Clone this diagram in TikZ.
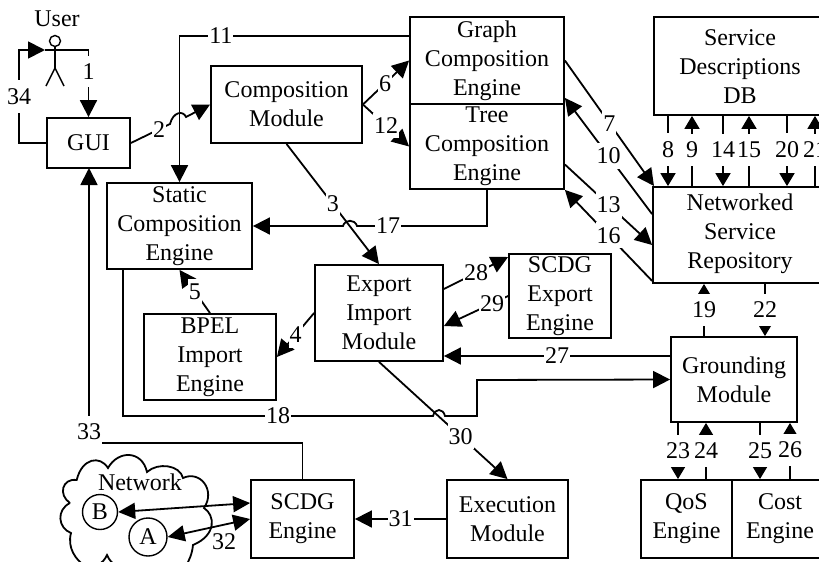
\documentclass[tikz,border=0pt]{standalone}
\usepackage{fontspec}
\setmainfont{Liberation Serif}
\usetikzlibrary{arrows.meta}
\tikzset{
  box/.style={draw,line width=1.8pt,align=center,inner sep=0pt,font=\fontsize{24}{29}\selectfont},
  lab/.style={fill=white,inner xsep=1pt,inner ysep=1pt,font=\fontsize{24}{29}\selectfont},
  labd/.style={lab,inner ysep=5pt},
  labv/.style={lab,inner xsep=0.5pt,inner ysep=8pt},
  plain/.style={inner sep=0pt,font=\fontsize{24}{29}\selectfont},
  conn/.style={line width=1.8pt,-{Triangle[length=17pt,width=17pt]}},
  connv/.style={line width=1.8pt,-{Triangle[length=13pt,width=15pt]}},
  conb/.style={line width=1.8pt,{Triangle[length=17pt,width=16pt]}-{Triangle[length=17pt,width=16pt]}},
  bare/.style={line width=1.8pt}
}
\begin{document}
\begin{tikzpicture}[x=1pt,y=-1pt]
   \useasboundingbox (0,0) rectangle (819,562);
   \clip (0,0) rectangle (819,562);
   % cloud
   \draw [bare] (70,503) .. controls (56,510) and (58,528) .. (71,533)
    .. controls (67,548) and (76,560) .. (85,566) .. controls (95,568) and (103,564) .. (107,555)
    .. controls (112,566) and (118,566) .. (125,570) -- (186,566)
    .. controls (189,560) and (192,555) .. (193,545) .. controls (217,535) and (215,515) .. (204,508)
    .. controls (216,490) and (200,470) .. (183,478) .. controls (180,465) and (158,462) .. (147,472)
    .. controls (142,450) and (118,450) .. (108,468) .. controls (100,455) and (82,458) .. (76.7,480)
    .. controls (62,478) and (58,495) .. (70,503);
   \node [plain] (net) at (140,482) {Network};
   \node [draw,circle,line width=1.4pt,inner sep=0pt,minimum size=35pt,font=\fontsize{24}{29}\selectfont] (nb) at (100,512) {B};
   \node [draw,circle,line width=1.4pt,inner sep=0pt,minimum size=38pt,font=\fontsize{24}{29}\selectfont] (na) at (148,537) {A};
   % boxes
   \node [box,minimum width=83pt,minimum height=50pt] (gui) at (88.5,143) {GUI};
   \node [box,minimum width=151pt,minimum height=77pt] (comp) at (286.5,104.5) {Composition\\Module};
   \node [box,minimum width=145pt,minimum height=86pt] (static) at (179.5,226) {Static\\Composition\\Engine};
   \node [box,minimum width=154pt,minimum height=87pt] (graph) at (487,60.5) {Graph\\Composition\\Engine};
   \node [box,minimum width=154pt,minimum height=85pt] (tree) at (487,146.5) {Tree\\Composition\\Engine};
   \node [box,minimum width=190pt,minimum height=98pt] (db) at (749,66) {};
   \node [plain,align=center] (dbtext) at (740,67) {Service\\Descriptions\\DB};
   \node [box,minimum width=190pt,minimum height=96pt] (repo) at (748,235) {};
   \node [plain,align=center] (repotext) at (740,234) {Networked\\Service\\Repository};
   \node [box,minimum width=126pt,minimum height=85pt] (ground) at (734,379.5) {Grounding\\Module};
   \node [box,minimum width=128pt,minimum height=96pt] (export) at (379,313) {Export\\Import\\Module};
   \node [box,minimum width=102pt,minimum height=84pt] (scdgx) at (560,296) {SCDG\\Export\\Engine};
   \node [box,minimum width=132pt,minimum height=86pt] (bpel) at (210,357) {BPEL\\Import\\Engine};
   \node [box,minimum width=121pt,minimum height=78pt] (exec) at (507.5,519) {Execution\\Module};
   \node [box,minimum width=103pt,minimum height=78pt] (scdg) at (302.5,519) {SCDG\\Engine};
   \node [box,minimum width=91pt,minimum height=78pt] (qos) at (686.5,519) {QoS\\Engine};
   \node [box,minimum width=100pt,minimum height=78pt] (cost) at (782,519) {};
   \node [plain,align=center] (costtext) at (780,519) {Cost\\Engine};
   % user
   \node [plain] (user) at (57,19) {User};
   \node [draw,circle,line width=1.4pt,inner sep=0pt,minimum size=11pt] (head) at (55,41) {};
   \coordinate (hip) at (55,68);
   \coordinate (arm) at (45,50);
   \draw [bare,line width=1.4pt] (head.south) -- (hip);
   \draw [bare,line width=1.4pt] (46,86) -- (hip) -- (64,86);
   \draw [conn] (gui.west) -- (19,143) -- node [labv,pos=.5] (l34) {34} (19,50) -- (arm);
   \draw [conn] (arm) -- (88.5,50) -- node [labv,pos=.32] (l1) {1} (gui.north);
   % connectors
   \draw [conn] (gui.east) -- node [lab,pos=.72] (l2) {2} (170,124) .. controls (173,112) and (183,110) .. (186,117) -- (comp.west);
   \draw [conn] (graph.west |- 0,36) -- node [lab,pos=.82] (l11) {11} (179.5,36) -- (static.north);
   \draw [conn] (comp.south) -- node [labd,pos=.5] (l3) {3} (export.north);
   \draw [conn] (comp.east) -- node [labd,pos=.48] (l6) {6} (graph.west);
   \draw [conn] (comp.east) -- node [labd,pos=.5] (l12) {12} (tree.west);
   \draw [conn] (tree.south) -- (487,226) -- node [lab,pos=.76] (l17) {17} (357,226) .. controls (355,219) and (345,219) .. (343,226) -- (static.east);
   \draw [conn] (graph.east) -- node [labd,pos=.5] (l7) {7} ([xshift=-94pt,yshift=49pt]repo.center);
   \draw [conn] ([yshift=-28pt]repo.north west) -- node [labd,pos=.5] (l10) {10} ([yshift=7pt]graph.south east);
   \draw [conn] ([yshift=-18pt]tree.east) -- node [labd,pos=.5] (l13) {13} ([yshift=-10pt]repo.west);
   \draw [conn] ([yshift=3pt]repo.south west) -- node [labd,pos=.5] (l16) {16} (tree.south east);
   % db and repository
   \draw [connv] (db.south -| 668,0) -- node [labv,pos=.48] (l8) {8} (repo.north -| 668,0);
   \draw [connv] (repo.north -| 692,0) -- node [labv,pos=.52] (l9) {9} (db.south -| 692,0);
   \draw [connv] (db.south -| 723,0) -- node [labv,pos=.48] (l14) {14} (repo.north -| 723,0);
   \draw [connv] (repo.north -| 749,0) -- node [labv,pos=.52] (l15) {15} (db.south -| 749,0);
   \draw [connv] (db.south -| 787,0) -- node [labv,pos=.48] (l20) {20} (repo.north -| 787,0);
   \draw [connv] (repo.north -| 815,0) -- node [labv,pos=.52] (l21) {21} (db.south -| 815,0);
   \draw [connv] (ground.north -| 704,0) -- node [labv,pos=.5] (l19) {19} (repo.south -| 704,0);
   \draw [connv] (repo.south -| 765,0) -- node [labv,pos=.5] (l22) {22} (ground.north -| 765,0);
   % grounding
   \draw [conn] ([yshift=23.5pt]ground.west) -- node [lab,pos=.5] (l27) {27} (export.east |- 0,356);
   \draw [conn] ([xshift=-56.5pt]static.south) -- (123,416) -- node [lab,pos=.5] (l18) {18} (433,416) .. controls (435,408) and (443,408) .. (445,416) -- (477,416) -- (477,380) -- (ground.west);
   \draw [connv] (ground.south -| 678,0) -- node [labv,pos=.5] (l23) {23} (qos.north -| 678,0);
   \draw [connv] (qos.north -| 706,0) -- node [labv,pos=.5] (l24) {24} (ground.south -| 706,0);
   \draw [connv] (ground.south -| 760,0) -- node [labv,pos=.5] (l25) {25} (cost.north -| 760,0);
   \draw [connv] (cost.north -| 790,0) -- node [labv,pos=.52] (l26) {26} (ground.south -| 790,0);
   % export import
   \draw [conn] (export.west) -- node [labd,pos=.5] (l4) {4} (bpel.east);
   \draw [conn] (bpel.north) -- node [labd,pos=.5] (l5) {5} (static.south);
   \draw [conn] ([yshift=24pt]export.east) -- node [labd,pos=.5] (l28) {28} ([yshift=39pt]scdgx.west);
   \draw [conn] (scdgx.west) -- node [labd,pos=.25] (l29) {29} ([yshift=-13pt]export.east);
   \draw [conn] (export.south) -- node [labd,pos=.635] (l30) {30} (exec.north);
   \draw [conn] (exec.west) -- node [labd,pos=.5] (l31) {31} (scdg.east);
   \draw [conn] (scdg.north) -- (302.5,443) -- (89,443) -- node [labv,pos=.04] (l33) {33} (89,168);
   \draw [conb] (nb.east) -- ([yshift=16pt]scdg.west);
   \draw [conb] (na.east) -- (scdg.west);
   \node [plain] (l32) at (224,542) {32};
\end{tikzpicture}
\end{document}
